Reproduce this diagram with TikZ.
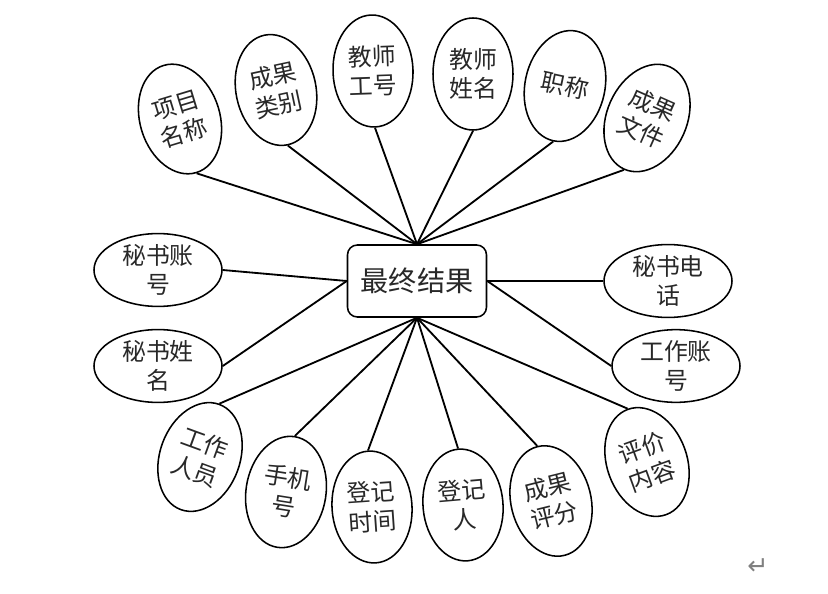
\documentclass[tikz,border=0pt]{standalone}
\usepackage{fontspec}
\usepackage{tikz}
\usetikzlibrary{shapes.geometric}
\newfontfamily\cjk{Noto Sans CJK SC}
\newfontfamily\fuhao{DejaVu Sans}
\definecolor{wenzi}{RGB}{40,40,40}

\begin{document}
\begin{tikzpicture}[
  shuxing/.style={draw, ellipse, line width=1.1pt, minimum width=2cm, minimum height=2.8cm,
    inner sep=0pt, align=center, font=\cjk\fontsize{17}{21}\selectfont, text=wenzi},
  shuxingkuan/.style={shuxing, minimum width=3.2cm, minimum height=1.8cm},
  shiti/.style={draw, rounded corners=7pt, line width=1.1pt, minimum width=3.475cm,
    minimum height=1.8cm, font=\cjk\fontsize{20}{24}\selectfont, text=wenzi},
  lianxian/.style={line width=1.3pt}]
  \useasboundingbox (0,0) rectangle (20.7,14.825);
  \node[shiti] (jieguo) at (10.425,7.8) {最终结果};
  % upper attributes
  \node[shuxing, rotate=17] (xm) at (4.5,11.85) {项目\\名称};
  \node[shuxing, rotate=12] (cglb) at (6.9,12.575) {成果\\类别};
  \node[shuxing, rotate=2] (jsgh) at (9.325,13.05) {教师\\工号};
  \node[shuxing] (jsxm) at (11.825,12.975) {教师\\姓名};
  \node[shuxing, rotate=-12] (zc) at (14.125,12.675) {职称};
  \node[shuxing, rotate=-24] (cgwj) at (16.175,11.875) {成果\\文件};
  % left and right
  \node[shuxingkuan] (mszh) at (3.95,8.075) {秘书账\\号};
  \node[shuxingkuan] (msxm) at (3.95,5.675) {秘书姓\\名};
  \node[shuxingkuan] (msdh) at (16.7,7.8) {秘书电\\话};
  \node[shuxingkuan] (gzzh) at (16.9,5.675) {工作账\\号};
  % lower attributes
  \node[shuxing, rotate=-20] (gzry) at (5.0,3.4) {工作\\人员};
  \node[shuxing, rotate=-9] (sjh) at (7.15,2.525) {手机\\号};
  \node[shuxing, rotate=4] (djsj) at (9.3,2.15) {登记\\时间};
  \node[shuxing, rotate=5] (djr) at (11.575,2.2) {登记\\人};
  \node[shuxing, rotate=14] (cgpf) at (13.775,2.3) {成果\\评分};
  \node[shuxing, rotate=20] (pjnr) at (16.175,3.275) {评价\\内容};
  \node[font=\fuhao\fontsize{18}{18}\selectfont, text=gray] (huiche) at (18.95,0.65) {↵};
  % connectors
  \foreach \n in {xm,cglb,jsgh,jsxm,zc,cgwj} \draw[lianxian] (jieguo.north) -- (\n.south);
  \foreach \n in {gzry,sjh,djsj,djr,cgpf,pjnr} \draw[lianxian] (jieguo.south) -- (\n.north);
  \draw[lianxian] (jieguo.west) -- (mszh.east);
  \draw[lianxian] (jieguo.west) -- (msxm.east);
  \draw[lianxian] (jieguo.east) -- (msdh.west);
  \draw[lianxian] (jieguo.east) -- (gzzh.west);
\end{tikzpicture}
\end{document}
